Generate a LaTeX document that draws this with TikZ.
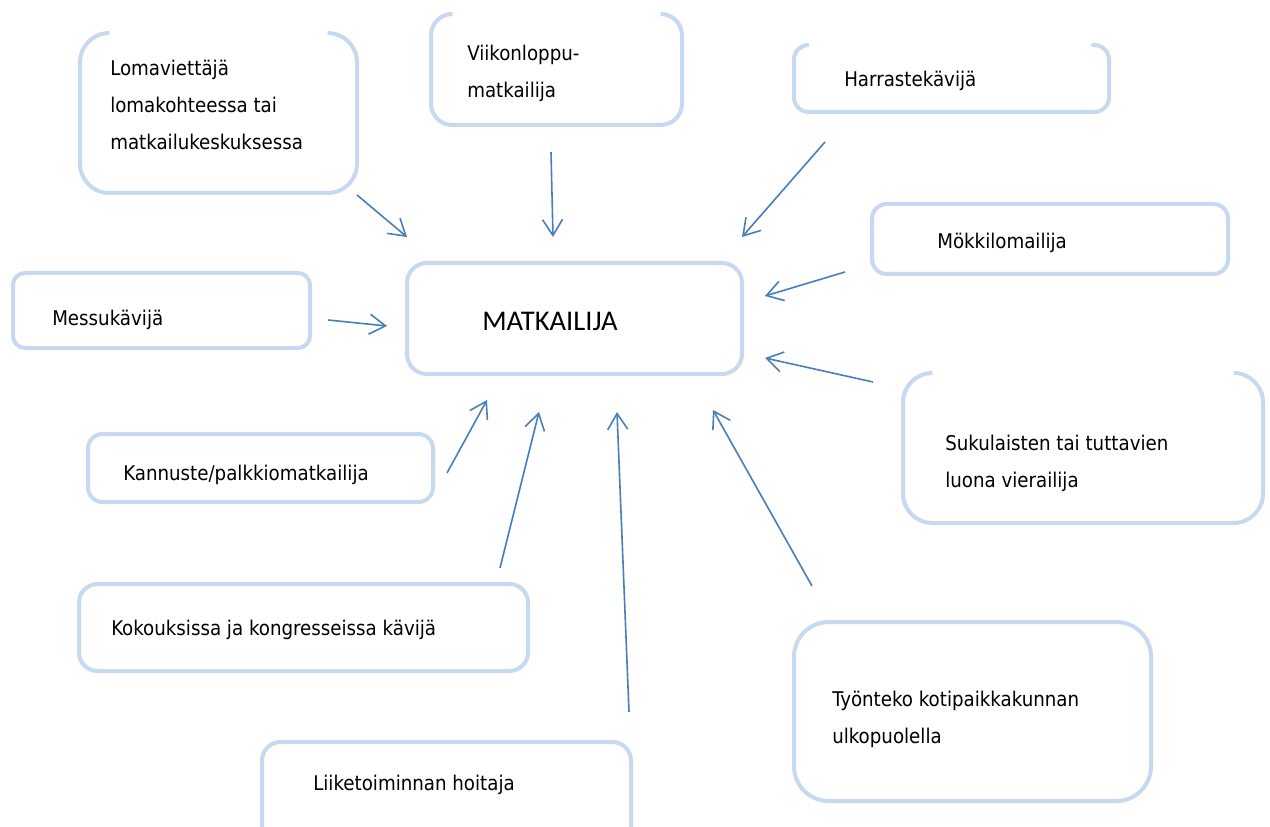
\documentclass[tikz,border=0pt]{standalone}
\usepackage{fontspec}
\usetikzlibrary{arrows.meta}
\newfontfamily\boxfont{DejaVu Sans Condensed}
\newfontfamily\hubfont{Carlito}
\definecolor{boxblue}{RGB}{198,217,241}
\definecolor{arrowblue}{RGB}{74,126,187}

\begin{document}
\begin{tikzpicture}[x=0.75pt, y=-0.75pt,
    frame/.style={draw=boxblue, line width=3pt, line cap=round, rounded corners=#1},
    frame/.default=11pt,
    boxtext/.style={anchor=base west, align=left, inner sep=0pt,
      font=\boxfont\fontsize{15.2}{27.75}\selectfont},
    hubtext/.style={anchor=base west, inner sep=0pt,
      font=\hubfont\fontsize{21.4}{25}\selectfont},
    feed/.style={draw=arrowblue, line width=1.2pt,
      -{Straight Barb[length=12pt, width=15pt, line width=1.2pt]}}]
  \clip (0,0) rectangle (1270,827);
  \fill[white] (0,0) rectangle (1270,827);

  % frames, the open ones drawn round from one end of the gap to the other
  \draw[frame=22pt] (328,33) -- (357,33) -- (357,193) -- (80,193) -- (80,33) -- (109,33);
  \draw[frame=16pt] (662,14) -- (682,14) -- (682,125) -- (431,125) -- (431,14) -- (452,14);
  \draw[frame=11pt] (1093,45) -- (1109,45) -- (1109,112) -- (794,112) -- (794,45) -- (808,45);
  \draw[frame=22pt] (1235,373) -- (1263,373) -- (1263,523) -- (903,523) -- (903,373) -- (930,373);
  \draw[frame] (872,204) rectangle (1228,274);
  \draw[frame=15pt] (407,263) rectangle (742,374);
  \draw[frame=9pt] (13,273) rectangle (310,348);
  \draw[frame] (88,434) rectangle (433,502);
  \draw[frame=14pt] (79,584) rectangle (528,671);
  \draw[frame=14pt] (262,742) rectangle (631,860);
  \draw[frame=26pt] (794,622) rectangle (1151,801);

  % texts (base = last line)
  \node[boxtext] (loma) at (110,150) {Lomaviettäjä\\lomakohteessa tai\\matkailukeskuksessa};
  \node[boxtext] (viikon) at (467,98) {Viikonloppu-\\matkailija};
  \node[boxtext] (harraste) at (844,87) {Harrastekävijä};
  \node[boxtext] (mokki) at (937,248) {Mökkilomailija};
  \node[hubtext] (matkailija) at (482,330) {MATKAILIJA};
  \node[boxtext] (messu) at (52,325) {Messukävijä};
  \node[boxtext] (suku) at (945,487) {Sukulaisten tai tuttavien\\luona vierailija};
  \node[boxtext] (kannuste) at (123,480) {Kannuste/palkkiomatkailija};
  \node[boxtext] (kokous) at (111,635) {Kokouksissa ja kongresseissa kävijä};
  \node[boxtext] (liike) at (313,790) {Liiketoiminnan hoitaja};
  \node[boxtext] (tyonteko) at (832,743) {Työnteko kotipaikkakunnan\\ulkopuolella};

  % arrow ends
  \coordinate (loma-from) at (357,195);     \coordinate (loma-to) at (407,237);
  \coordinate (viikon-from) at (551,152);   \coordinate (viikon-to) at (553,237);
  \coordinate (harraste-from) at (825,142); \coordinate (harraste-to) at (742,237);
  \coordinate (mokki-from) at (845,272);    \coordinate (mokki-to) at (765,296);
  \coordinate (messu-from) at (328,320);    \coordinate (messu-to) at (387,326);
  \coordinate (suku-from) at (873,382);     \coordinate (suku-to) at (765,358);
  \coordinate (kannuste-from) at (447,473); \coordinate (kannuste-to) at (487,400);
  \coordinate (kokous-from) at (500,568);   \coordinate (kokous-to) at (539,412);
  \coordinate (liike-from) at (629,712);    \coordinate (liike-to) at (617,412);
  \coordinate (tyonteko-from) at (812,586); \coordinate (tyonteko-to) at (713,410);

  \foreach \n in {loma, viikon, harraste, mokki, messu, suku, kannuste, kokous, liike, tyonteko} {
    \draw[feed] (\n-from) -- (\n-to);
  }
\end{tikzpicture}
\end{document}
